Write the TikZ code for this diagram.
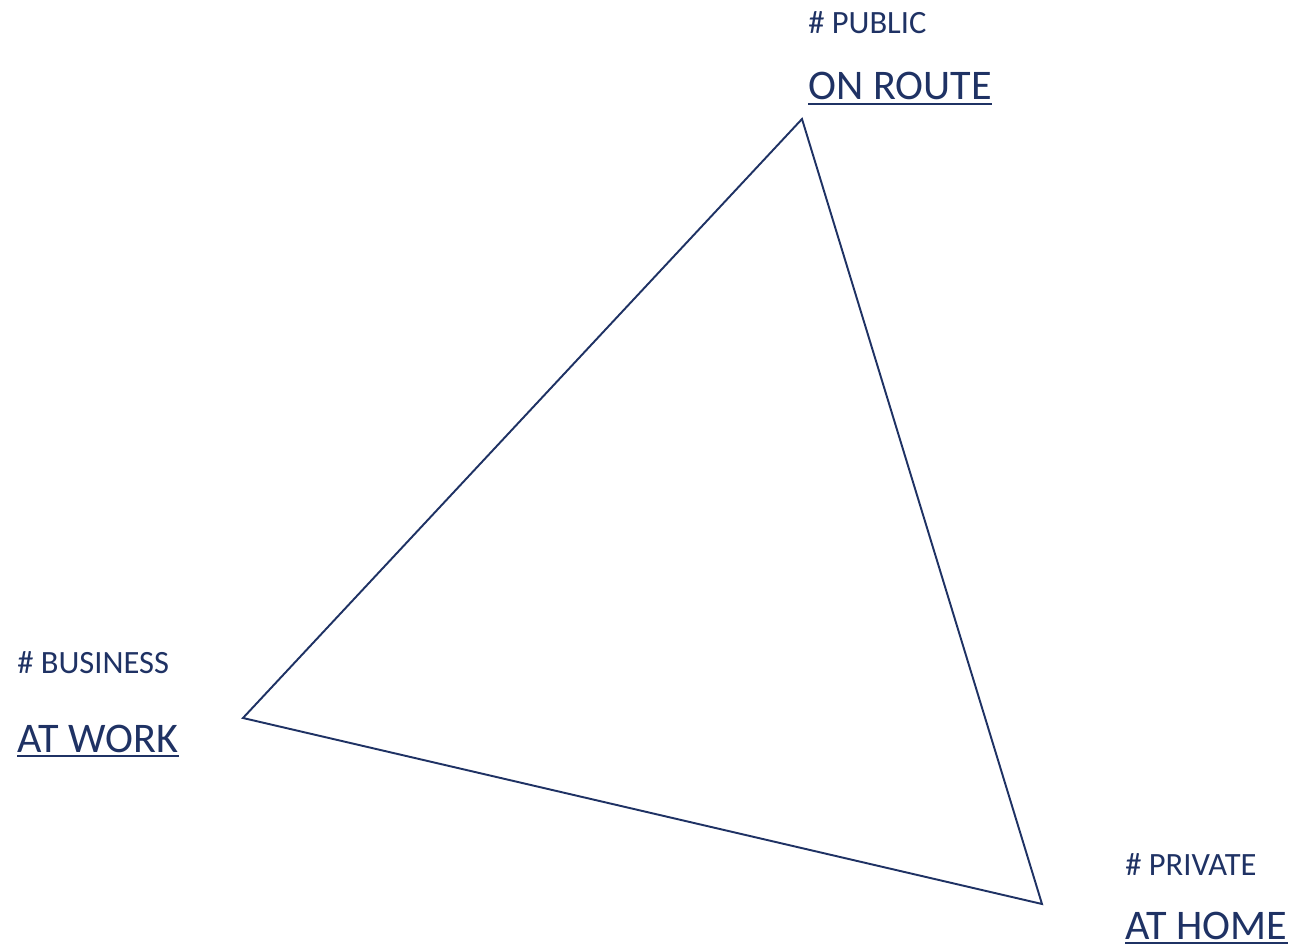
\documentclass[tikz,border=0pt]{standalone}
\usepackage{fontspec}
\setmainfont{Carlito}
\usepackage{xcolor}
\usepackage{tikz}
\usetikzlibrary{positioning, calc}
\definecolor{navy}{HTML}{1F3264}

\begin{document}
\begin{tikzpicture}[
        x=0.02cm, y=-0.02cm,
        % Style for the small hashtag captions
        tag/.style={
            anchor=base west,
            inner sep=0pt,
            text=navy,
            font=\fontsize{18.5pt}{22pt}\selectfont
        },
        % Style for the big underlined place names
        place/.style={
            anchor=base west,
            inner sep=0pt,
            text=navy,
            font=\fontsize{24pt}{29pt}\selectfont
        },
        uline/.style={draw=navy, line width=1.5pt},
        edge/.style={draw=navy, line width=1.1pt, line join=miter}
    ]

    % page frame
    \useasboundingbox (0,0) rectangle (1292,949);

    % ==========================================
    % CORNERS OF THE TRIANGLE
    % ==========================================
    \coordinate (route) at (802,119);
    \coordinate (work) at (243,718);
    \coordinate (home) at (1042,904);

    \draw[edge] (route) -- (home) -- (work) -- cycle;

    % ==========================================
    % LABELS
    % ==========================================

    % top corner
    \node[tag] (publicTag) at (808,34) {\# PUBLIC};
    \node[place] (routeName) at (808,100) {ON ROUTE};
    \draw[uline] ($(routeName.base west)+(0,4)$) -- ($(routeName.base east)+(0,4)$);

    % left corner
    \node[tag] (businessTag) at (17,673) {\# BUSINESS};
    \node[place] (workName) at (17,752) {AT WORK};
    \draw[uline] ($(workName.base west)+(0,4)$) -- ($(workName.base east)+(0,4)$);

    % bottom right corner
    \node[tag] (privateTag) at (1125,875) {\# PRIVATE};
    \node[place] (homeName) at (1125,939) {AT HOME};
    \draw[uline] ($(homeName.base west)+(0,4)$) -- ($(homeName.base east)+(0,4)$);

    \end{tikzpicture}
\end{document}
